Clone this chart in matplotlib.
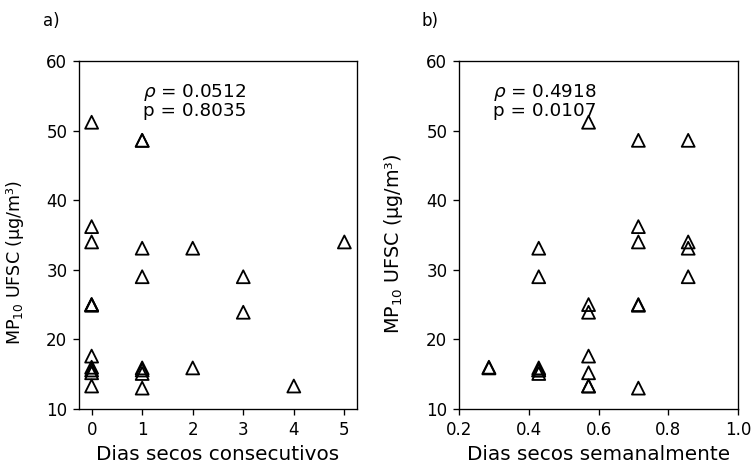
import matplotlib
matplotlib.use("Agg")
import matplotlib.pyplot as plt

# MP10 at UFSC (ug/m3) and dry-day counts for each sample
mp10 = [51.2, 48.6, 48.6, 36.2, 34.0, 34.0, 33.1, 33.1, 29.0, 29.0,
        25.0, 25.0, 24.9, 23.9, 17.6, 16.0, 15.9, 15.6, 15.6, 15.9,
        15.1, 15.2, 13.3, 13.3, 13.0]
dias_consec = [0, 1, 1, 0, 0, 5, 1, 2, 1, 3,
               0, 0, 0, 3, 0, 0, 1, 0, 1, 2,
               1, 0, 0, 4, 1]
dias_semana = [4/7, 5/7, 6/7, 5/7, 5/7, 6/7, 6/7, 3/7, 3/7, 6/7,
               4/7, 5/7, 5/7, 4/7, 4/7, 2/7, 2/7, 3/7, 3/7, 3/7,
               3/7, 4/7, 4/7, 4/7, 5/7]

rho_a, p_a = 0.0512, 0.8035
rho_b, p_b = 0.4918, 0.0107

ylabel = "MP$_{10}$ UFSC (μg/m³)"

fig = plt.figure(figsize=(753 / 120, 472 / 120), dpi=120)
ax1 = fig.add_axes([0.1049, 0.1335, 0.3692, 0.7373])
ax2 = fig.add_axes([0.6096, 0.1335, 0.3705, 0.7373])

for ax, x in ((ax1, dias_consec), (ax2, dias_semana)):
    ax.scatter(x, mp10, marker="^", s=60, facecolors="none",
               edgecolors="black", linewidths=1.1)
    ax.set_ylim(10, 60)
    ax.set_yticks([10, 20, 30, 40, 50, 60])
    ax.tick_params(labelsize=10)

ax1.set_xticks([0, 1, 2, 3, 4, 5])
ax2.set_xlim(0.2, 1.0)
ax2.set_xticks([0.2, 0.4, 0.6, 0.8, 1.0])

ax1.set_xlabel("Dias secos consecutivos", fontsize=12)
ax2.set_xlabel("Dias secos semanalmente", fontsize=12)

ax1.set_ylabel(ylabel, fontsize=10.5)
ax1.yaxis.set_label_coords(-0.19, 0.42)
ax2.set_ylabel(ylabel, fontsize=11.5)
ax2.yaxis.set_label_coords(-0.195, 0.475)

ax1.text(0.23, 0.94, f"$\\rho$ = {rho_a:.4f}\np = {p_a:.4f}",
         transform=ax1.transAxes, va="top", ha="left", fontsize=11,
         linespacing=0.95)
ax2.text(0.12, 0.94, f"$\\rho$ = {rho_b:.4f}\np = {p_b:.4f}",
         transform=ax2.transAxes, va="top", ha="left", fontsize=11,
         linespacing=0.95)

fig.text(0.057, 0.975, "a)", fontsize=10, va="top")
fig.text(0.56, 0.975, "b)", fontsize=10, va="top")

fig.savefig("out.png", dpi=120)
